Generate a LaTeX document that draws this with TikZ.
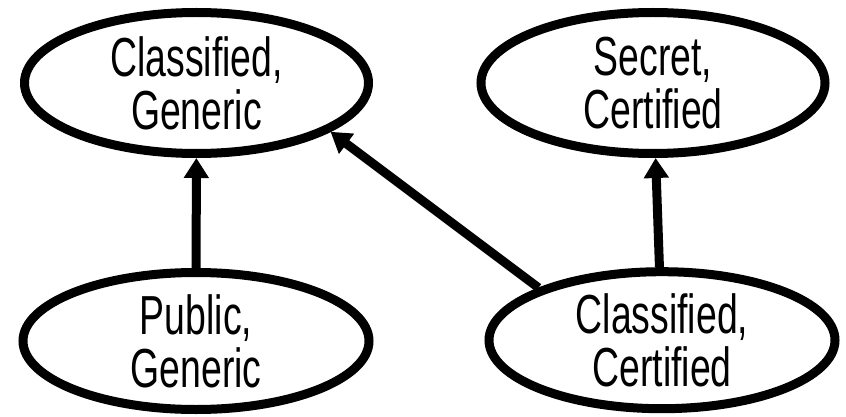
\documentclass[tikz,border=0pt]{standalone}
\usepackage{fontspec}
\setmainfont{Liberation Sans}[FakeStretch=0.68]
\usetikzlibrary{shapes.geometric,arrows.meta}
\begin{document}
\begin{tikzpicture}[x=1pt,y=-1pt,
  state/.style={ellipse,draw=black,line width=9pt,inner sep=0pt,inner ysep=-6pt,
    align=center,font=\fontsize{55}{53}\selectfont},
  topstate/.style={state,minimum width=344pt,minimum height=141pt},
  botstate/.style={state,minimum width=346pt,minimum height=137pt},
  link/.style={line width=9pt,-{Triangle[width=24pt,length=20pt]}}]
\useasboundingbox[fill=white] (0,0) rectangle (846,417);
\node[topstate] (cg) at (196.5,83) {Classified,\\Generic};
\node[topstate] (sc) at (653,83) {Secret,\\Certified};
\node[botstate] (pg) at (196,341) {Public,\\Generic};
\node[botstate] (cc) at (662,340.2) {Classified,\\Certified};
\draw[link] (pg) -- (cg);
\draw[link] (cc.157.5) -- (cg.-20.8);
\draw[link] (cc) -- (sc);
\end{tikzpicture}
\end{document}
